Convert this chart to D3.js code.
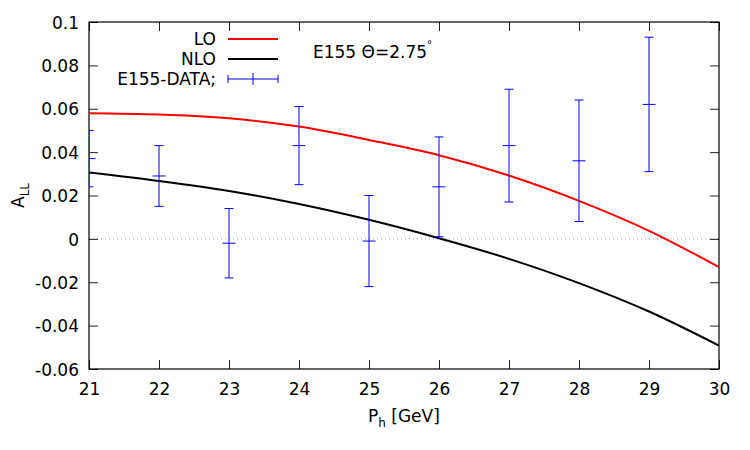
<!DOCTYPE html>
<html><head><meta charset="utf-8">
<script src="https://cdn.jsdelivr.net/npm/d3@7"></script>
<style>body{margin:0;background:#fff}text{font-family:"DejaVu Sans",sans-serif;fill:#000}</style>
</head><body><svg id="c" width="750" height="450"></svg>
<script>
const xTicks = [21,22,23,24,25,26,27,28,29,30];
const yTicks = [-0.06,-0.04,-0.02,0,0.02,0.04,0.06,0.08,0.1];
const yTickLabels = ["-0.06","-0.04","-0.02","0","0.02","0.04","0.06","0.08","0.1"];
const curveX = [21,22,23,24,25,26,27,28,29,30];
const loValues = [0.0579,0.0573,0.0556,0.0518,0.0456,0.0386,0.0292,0.0175,0.0037,-0.0130];
const nloValues = [0.0306,0.0267,0.0221,0.0161,0.0088,0.0003,-0.0092,-0.0204,-0.0335,-0.0492];
const dataX = [21,22,23,24,25,26,27,28,29];
const dataY = [0.037,0.029,-0.002,0.043,-0.001,0.024,0.043,0.036,0.062];
const dataLow = [0.024,0.015,-0.018,0.025,-0.022,0.001,0.017,0.008,0.031];
const dataHigh = [0.050,0.043,0.014,0.061,0.020,0.047,0.069,0.064,0.093];

const FS = 17;
const svg = d3.select("#c");
const L=89, R=719, T=22, B=369;
const x = d3.scaleLinear().domain([21,30]).range([L,R]);
const y = d3.scaleLinear().domain([-0.06,0.1]).range([B,T]);

svg.append("defs").append("clipPath").attr("id","clip")
  .append("rect").attr("x",L).attr("y",T).attr("width",R-L).attr("height",B-T);

// zero line
svg.append("line").attr("x1",L).attr("x2",R).attr("y1",y(0)).attr("y2",y(0))
  .attr("stroke","#999").attr("stroke-width",1).attr("stroke-dasharray","1,3");

// axes with inward ticks
const tk = 9;
const axB = svg.append("g").attr("transform",`translate(0,${B})`)
  .call(d3.axisBottom(x).tickValues(xTicks).tickSizeInner(-tk).tickSizeOuter(0).tickFormat(d3.format("d")));
const axT = svg.append("g").attr("transform",`translate(0,${T})`)
  .call(d3.axisTop(x).tickValues(xTicks).tickSizeInner(-tk).tickSizeOuter(0).tickFormat(""));
const axL = svg.append("g").attr("transform",`translate(${L},0)`)
  .call(d3.axisLeft(y).tickValues(yTicks).tickSizeInner(-tk).tickSizeOuter(0).tickFormat((d,i)=>yTickLabels[i]));
const axR = svg.append("g").attr("transform",`translate(${R},0)`)
  .call(d3.axisRight(y).tickValues(yTicks).tickSizeInner(-tk).tickSizeOuter(0).tickFormat(""));
[axB,axT,axL,axR].forEach(a=>{
  a.select(".domain").remove();
  a.selectAll(".tick line").attr("stroke","#222");
  a.selectAll("text").attr("font-size",FS).attr("fill","#000").attr("font-family","DejaVu Sans, sans-serif");
});
axB.selectAll("text").attr("dy",null).attr("y",26);
axL.selectAll("text").attr("x",-10).attr("dy","0.36em");
svg.append("rect").attr("x",L).attr("y",T).attr("width",R-L).attr("height",B-T)
  .attr("fill","none").attr("stroke","#000").attr("stroke-width",1.2);

// curves
const line = d3.line().x(d=>x(d[0])).y(d=>y(d[1])).curve(d3.curveMonotoneX);
const g = svg.append("g").attr("clip-path","url(#clip)");
g.append("path").datum(curveX.map((v,i)=>[v,loValues[i]])).attr("d",line)
  .attr("fill","none").attr("stroke","#ff0000").attr("stroke-width",2);
g.append("path").datum(curveX.map((v,i)=>[v,nloValues[i]])).attr("d",line)
  .attr("fill","none").attr("stroke","#000").attr("stroke-width",2);

// error bars
const eb = g.append("g").attr("stroke","#0000ff").attr("stroke-width",1);
dataX.forEach((xv,i)=>{
  const cx=x(xv);
  eb.append("line").attr("x1",cx).attr("x2",cx).attr("y1",y(dataLow[i])).attr("y2",y(dataHigh[i]));
  eb.append("line").attr("x1",cx-4.5).attr("x2",cx+4.5).attr("y1",y(dataLow[i])).attr("y2",y(dataLow[i]));
  eb.append("line").attr("x1",cx-4.5).attr("x2",cx+4.5).attr("y1",y(dataHigh[i])).attr("y2",y(dataHigh[i]));
  eb.append("line").attr("x1",cx-6.5).attr("x2",cx+6.5).attr("y1",y(dataY[i])).attr("y2",y(dataY[i]));
});

// legend
const leg = svg.append("g");
const items = [{t:"LO",c:"#ff0000",w:2},{t:"NLO",c:"#000",w:2},{t:"E155-DATA;",c:"#0000ff",w:1,eb:true}];
items.forEach((it,i)=>{
  const ly = 39 + i*20;
  leg.append("text").attr("x",216).attr("y",ly+6).attr("text-anchor","end").attr("font-size",FS).text(it.t);
  leg.append("line").attr("x1",228).attr("x2",278).attr("y1",ly).attr("y2",ly).attr("stroke",it.c).attr("stroke-width",it.w);
  if(it.eb){
    [228,278].forEach(xx=>leg.append("line").attr("x1",xx).attr("x2",xx).attr("y1",ly-4).attr("y2",ly+4).attr("stroke",it.c));
    leg.append("line").attr("x1",253).attr("x2",253).attr("y1",ly-6).attr("y2",ly+6).attr("stroke",it.c);
  }
});

// annotation
const ann = svg.append("text").attr("x",313).attr("y",58).attr("font-size",FS);
ann.append("tspan").text("E155 Θ=2.75");
ann.append("tspan").attr("font-size",10).attr("dy",-10).text("°");

// axis labels
const yl = svg.append("text").attr("transform","translate(24,208) rotate(-90)").attr("text-anchor","start").attr("font-size",FS);
yl.append("tspan").text("A");
yl.append("tspan").attr("font-size",12).attr("dy",5).text("LL");
const xl = svg.append("text").attr("x",368).attr("y",422).attr("text-anchor","start").attr("font-size",FS);
xl.append("tspan").attr("fill","#000").text("P");
xl.append("tspan").attr("fill","#000").attr("font-size",12).attr("dy",5).text("h");
xl.append("tspan").attr("fill","#000").attr("dy",-5).text(" [GeV]");
</script></body></html>
